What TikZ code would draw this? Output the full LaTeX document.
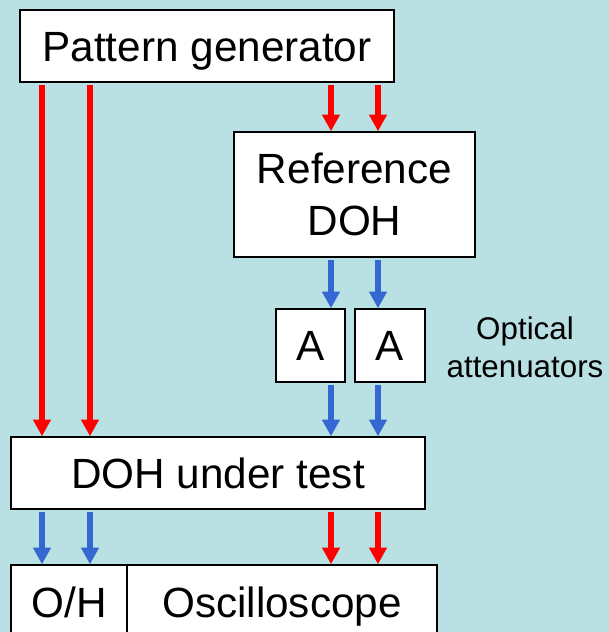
\documentclass[tikz,border=0pt]{standalone}
\usepackage{fontspec}
\setmainfont{Liberation Sans}
\usetikzlibrary{arrows.meta}
\definecolor{bgc}{RGB}{185,224,227}
\definecolor{sigred}{RGB}{255,0,0}
\definecolor{sigblue}{RGB}{52,103,210}
\tikzset{
  box/.style={draw=black, line width=1.1pt, fill=white, inner sep=0pt,
    font=\fontsize{31.7}{39}\selectfont, text height=22.6pt, text depth=0pt},
  mbox/.style={draw=black, line width=1.1pt, fill=white, inner sep=0pt,
    font=\fontsize{31.7}{39}\selectfont, align=center},
  sig/.style={line width=3.8pt, -{Triangle[width=12.75pt,length=12.5pt]}, shorten <=1.5pt},
  redsig/.style={sig, draw=sigred, color=sigred},
  bluesig/.style={sig, draw=sigblue, color=sigblue}
}
\begin{document}
\begin{tikzpicture}[x=0.75pt, y=-0.75pt]
\fill[bgc] (0,0) rectangle (609,632);
\useasboundingbox (0,0) rectangle (609,632);
\clip (0,0) rectangle (609,632);

\node[box, minimum width=374*0.75pt, minimum height=72*0.75pt] (pg) at (207,46) {Pattern generator};
\node[mbox, minimum width=241*0.75pt, minimum height=125*0.75pt] (ref) at (354.5,194.5) {Reference\\DOH};
\node[box, minimum width=69*0.75pt, minimum height=73*0.75pt] (a1) at (310.5,345.5) {A};
\node[box, minimum width=70*0.75pt, minimum height=73*0.75pt] (a2) at (390,345.5) {A};
\node[font=\fontsize{23.5}{28.5}\selectfont, align=center] (opt) at (525,347) {Optical\\attenuators};
\node[box, minimum width=414*0.75pt, minimum height=72*0.75pt] (dut) at (218,473) {DOH under test};
\node[box, minimum width=116*0.75pt, minimum height=74*0.75pt] (oh) at (69,602) {O/H};
\node[box, minimum width=310*0.75pt, minimum height=74*0.75pt] (osc) at (282,602) {Oscilloscope};

\coordinate (xa) at (42,0);
\coordinate (xb) at (90,0);
\coordinate (xc) at (331,0);
\coordinate (xd) at (378,0);

\draw[redsig] (pg.south -| xa) -- (dut.north -| xa);
\draw[redsig] (pg.south -| xb) -- (dut.north -| xb);
\draw[redsig] (pg.south -| xc) -- (ref.north -| xc);
\draw[redsig] (pg.south -| xd) -- (ref.north -| xd);
\draw[bluesig] (ref.south -| xc) -- (a1.north -| xc);
\draw[bluesig] (ref.south -| xd) -- (a2.north -| xd);
\draw[bluesig] (a1.south -| xc) -- (dut.north -| xc);
\draw[bluesig] (a2.south -| xd) -- (dut.north -| xd);
\draw[bluesig] (dut.south -| xa) -- (oh.north -| xa);
\draw[bluesig] (dut.south -| xb) -- (oh.north -| xb);
\draw[redsig] (dut.south -| xc) -- (osc.north -| xc);
\draw[redsig] (dut.south -| xd) -- (osc.north -| xd);
\end{tikzpicture}
\end{document}
